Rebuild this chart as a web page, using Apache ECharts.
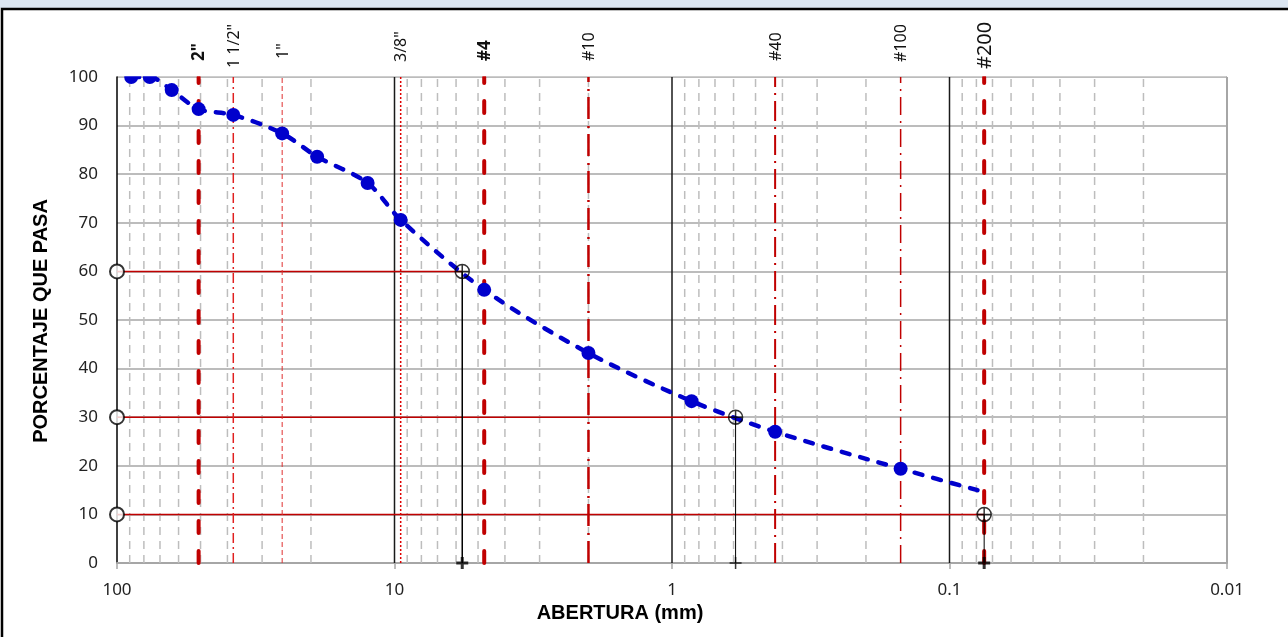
<!DOCTYPE html>
<html><head><meta charset="utf-8">
<script src="https://cdn.jsdelivr.net/npm/echarts@6/dist/echarts.min.js"></script>
<style>html,body{margin:0;padding:0;background:#fff}#c{width:1288px;height:637px}</style>
</head><body><div id="c"></div>
<script>
// ---- data ----
const sieveNames = ['2"', '1 1/2"', '1"', '3/8"', '#4', '#10', '#40', '#100', '#200'];
const sieveSizes = [50.8, 38.1, 25.4, 9.5, 4.75, 2.0, 0.425, 0.15, 0.075];
const aperture = [88.9, 76.2, 63.5, 50.8, 38.1, 25.4, 19.0, 12.5, 9.5, 4.75, 2.0, 0.85, 0.425, 0.15, 0.075];
const percentPassing = [100, 100, 97.3, 93.4, 92.2, 88.4, 83.6, 78.2, 70.6, 56.2, 43.2, 33.3, 27.0, 19.4, 14.6];
const dNames = ['D60', 'D30', 'D10'];
const dPercent = [60, 30, 10];
const dSize = [5.7, 0.59, 0.075];
const xTickValues = [100, 10, 1, 0.1, 0.01];
const minorMultipliers = [2, 3, 4, 5, 6, 7, 8, 9];

// ---- styles (not data) ----
const RED = '#c00000';
const thickDash = {color: RED, width: 4, type: [12, 18], cap: 'round'};
const sieveLineStyles = [
  thickDash,
  {color: '#e02020', width: 1.5, type: [10, 4, 2, 4]},
  {color: '#e03030', width: 1, type: [5, 3]},
  {color: '#e00000', width: 1.5, type: [2, 2]},
  thickDash,
  {color: RED, width: 2.5, type: [22, 6, 2, 7]},
  {color: RED, width: 2, type: [20, 6, 2, 6]},
  {color: RED, width: 1.5, type: [18, 6, 2, 6]},
  thickDash
];
const sieveLabelStyles = [
  {size: 17, weight: 'bold', y: 61},
  {size: 16, weight: 'normal', y: 68},
  {size: 16, weight: 'normal', y: 59},
  {size: 16, weight: 'normal', y: 62},
  {size: 17, weight: 'bold', y: 61},
  {size: 16, weight: 'normal', y: 61},
  {size: 16, weight: 'normal', y: 61},
  {size: 16, weight: 'normal', y: 62},
  {size: 20, weight: 'normal', y: 69}
];
const dLineWidths = [1.5, 1, 1];
const dPlusStroke = [3, 1.5, 3];

const FONT = '"Noto Sans", "Open Sans", sans-serif';
const BOLD = '"Liberation Sans", Arial, sans-serif';

const chart = echarts.init(document.getElementById('c'), null, {renderer: 'canvas'});

const minorLines = [];
for (let k = -2; k <= 1; k++) {
  const dec = Math.pow(10, k);
  minorMultipliers.forEach(m => minorLines.push(+(m * dec).toPrecision(6)));
}
const majorLines = xTickValues.slice(1, 4);

const circleCross = 'path://M-7,0 A7,7 0 1,0 7,0 A7,7 0 1,0 -7,0 Z M0,-7 L0,7 M-7,0 L7,0';
const plusPath = 'path://M0,-6 L0,6 M-6,0 L6,0';

function vLine(x, style, z) {
  return {type: 'line', z: z, symbol: 'none', silent: true, animation: false,
    lineStyle: style, data: [[x, 0], [x, 100]]};
}

const series = [];
minorLines.forEach(v => series.push(vLine(v, {color: '#bdbdbd', width: 1.5, type: [8, 6]}, 1)));
majorLines.forEach(v => series.push(vLine(v, {color: '#1a1a1a', width: 1.5, type: 'solid'}, 2)));
series.push(vLine(xTickValues[4], {color: '#a6a6a6', width: 2, type: 'solid'}, 2));
sieveSizes.forEach((s, i) => series.push(vLine(s, sieveLineStyles[i], 4)));

// D helper lines
dSize.forEach((d, i) => {
  series.push({type: 'line', z: 3, symbol: 'none', silent: true, animation: false,
    lineStyle: {color: RED, width: 1.5}, data: [[xTickValues[0], dPercent[i]], [d, dPercent[i]]]});
  series.push({type: 'line', z: 5, symbol: 'none', silent: true, animation: false,
    lineStyle: {color: '#000', width: dLineWidths[i]}, data: [[d, dPercent[i]], [d, 0]]});
  series.push({type: 'scatter', z: 9, silent: true, animation: false, clip: false,
    symbol: plusPath, symbolSize: 12,
    itemStyle: {color: 'none', borderColor: '#000', borderWidth: dPlusStroke[i]},
    data: [[d, 0]]});
});
// grading curve
series.push({
  name: 'Granulometría', type: 'line', z: 6, smooth: 0.3, clip: true, animation: false,
  symbol: 'circle', symbolSize: 14,
  itemStyle: {color: '#0000cc'},
  lineStyle: {color: '#0000cc', width: 4.5, type: [8, 11], cap: 'round'},
  data: aperture.map((a, i) => i === aperture.length - 1
    ? {value: [a, percentPassing[i]], symbol: 'none'}
    : [a, percentPassing[i]])
});
// D markers
series.push({type: 'scatter', z: 8, silent: true, animation: false, clip: false,
  symbol: 'emptyCircle', symbolSize: 14,
  itemStyle: {color: '#000', borderColor: '#000', borderWidth: 1.2},
  data: dPercent.map(p => [xTickValues[0], p])});
series.push({type: 'scatter', z: 8, silent: true, animation: false, clip: false,
  symbol: circleCross, symbolSize: 14,
  itemStyle: {color: 'none', borderColor: '#000', borderWidth: 1.5},
  data: dSize.map((d, i) => [d, dPercent[i]])});

const option = {
  animation: false,
  backgroundColor: '#fff',
  grid: {left: 117, right: 61, top: 77, bottom: 74, containLabel: false},
  xAxis: {
    type: 'log', logBase: 10, min: 0.01, max: 100, inverse: true,
    axisLine: {show: true, onZero: false, lineStyle: {color: '#a6a6a6', width: 2}},
    axisTick: {show: true, length: 6, lineStyle: {color: '#a6a6a6', width: 1.5}},
    axisLabel: {color: '#222', fontFamily: FONT, fontSize: 17, margin: 19,
      formatter: v => String(+v.toPrecision(6))},
    splitLine: {show: false}
  },
  yAxis: {
    type: 'value', min: 0, max: 100, interval: 10,
    axisLine: {show: true, lineStyle: {color: '#000', width: 1.5}},
    axisTick: {show: false},
    axisLabel: {color: '#222', fontFamily: FONT, fontSize: 17, margin: 19},
    splitLine: {show: true, lineStyle: {color: '#a6a6a6', width: 1.5}}
  },
  series: series,
  graphic: [
    {id: 'band', type: 'rect', z: -10, shape: {x: 0, y: 0, width: 1288, height: 8}, style: {fill: '#dbe5f1'}},
    {id: 'cover', type: 'rect', z: 50, shape: {x: 118, y: 55, width: 1108, height: 21.2}, style: {fill: '#fff'}},
    {id: 'frame', type: 'rect', z: 100, shape: {x: 2, y: 9, width: 1400, height: 700},
      style: {fill: 'none', stroke: '#000', lineWidth: 2.5}},
    {id: 'ytitle', type: 'text', x: 41, y: 321, rotation: Math.PI / 2,
      style: {text: 'PORCENTAJE QUE PASA', font: 'bold 20px ' + BOLD, fill: '#000',
        align: 'center', verticalAlign: 'middle', textAlign: 'center', textVerticalAlign: 'middle'}},
    {id: 'xtitle', type: 'text', x: 620, y: 613,
      style: {text: 'ABERTURA (mm)', font: 'bold 20px ' + BOLD, fill: '#000',
        align: 'center', verticalAlign: 'middle', textAlign: 'center', textVerticalAlign: 'middle'}}
  ]
};
chart.setOption(option);

// sieve labels above the plot, positioned with the axis scale
const labelGraphics = sieveSizes.map((s, i) => {
  const px = chart.convertToPixel({xAxisIndex: 0}, s);
  const st = sieveLabelStyles[i];
  return {id: 'sl' + i, type: 'text', z: 60, x: px + 1, y: st.y, rotation: Math.PI / 2,
    style: {text: sieveNames[i], font: st.weight + ' ' + st.size + 'px ' + FONT, fill: '#111',
      align: 'left', verticalAlign: 'middle', textAlign: 'left', textVerticalAlign: 'middle'}};
});
chart.setOption({graphic: labelGraphics});
</script>
</body></html>
